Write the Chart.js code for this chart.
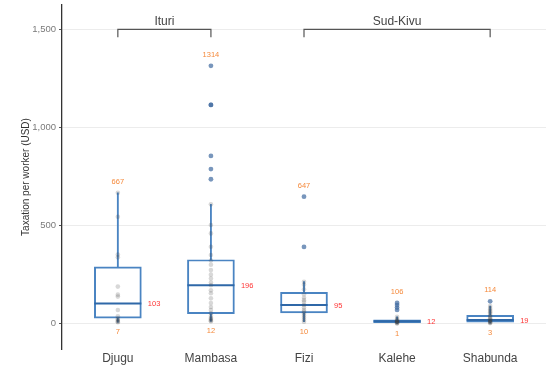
<!DOCTYPE html>
<html>
<head>
<meta charset="utf-8">
<script src="https://cdn.jsdelivr.net/npm/chart.js@4"></script>
<style>
	html, body { margin: 0; padding: 0; background: #fff; }
	#wrap { width: 549px; height: 376px; }
</style>
</head>
<body>
<div id="wrap"><canvas id="chart" width="549" height="376"></canvas></div>
<script>
const CATEGORIES = ['Djugu', 'Mambasa', 'Fizi', 'Kalehe', 'Shabunda'];

// box statistics, one entry per category
const WHISKER_LOW = [7, 12, 10, 1, 3];
const Q1 = [28, 51, 55, 5, 8];
const MEDIAN = [103, 196, 95, 12, 19];
const Q3 = [290, 326, 160, 20, 42];
const WHISKER_HIGH = [667, 608, 214, 35, 90];

// labels printed on the chart
const MIN_LABEL = [7, 12, 10, 1, 3];
const MAX_LABEL = [667, 1314, 647, 106, 114];

// individual observations (grey) and outliers (blue)
const DJUGU_PTS = [667, 545, 352, 338, 189, 148, 138, 70, 38, 25, 20, 15, 10, 7];
const MAMBASA_PTS = [608, 503, 460, 392, 350, 322, 300, 273, 250, 230, 210, 196, 170, 155, 129, 105, 85, 70, 53, 40, 30, 25, 20, 15, 12];
const FIZI_PTS = [214, 198, 175, 150, 132, 120, 110, 95, 82, 70, 60, 50, 40, 30, 20, 10];
const KALEHE_PTS = [35, 25, 20, 15, 12, 10, 8, 5, 3, 1];
const SHABUNDA_PTS = [90, 80, 72, 65, 58, 50, 42, 35, 28, 22, 19, 15, 10, 8, 5, 3];

const DJUGU_OUT = [];
const MAMBASA_OUT = [1314, 1115, 1115, 855, 788, 736];
const FIZI_OUT = [647, 391];
const KALEHE_OUT = [106, 95, 82, 70];
const SHABUNDA_OUT = [114];

// province groups (category positions, 1-based)
const GROUP_NAMES = ['Ituri', 'Sud-Kivu'];
const GROUP_FROM = [1, 3];
const GROUP_TO = [2, 5];

const Y_TICKS = [0, 500, 1000, 1500];

const BLUE = '#4a84c2';
const BLUE_DARK = '#2f68a8';
const ORANGE = '#f58a3c';
const RED = '#ff3535';
const FONT = "'Liberation Sans', Arial, sans-serif";

const pts = [DJUGU_PTS, MAMBASA_PTS, FIZI_PTS, KALEHE_PTS, SHABUNDA_PTS];
const outs = [DJUGU_OUT, MAMBASA_OUT, FIZI_OUT, KALEHE_OUT, SHABUNDA_OUT];

function flatten(groups) {
	const res = [];
	groups.forEach((g, i) => g.forEach(v => res.push({ x: i + 1, y: v })));
	return res;
}

const BRACKET_Y = 1500;
const BRACKET_DROP = 40;

const bracketSets = GROUP_NAMES.map((name, i) => ({
	type: 'scatter',
	label: name,
	data: [
		{ x: GROUP_FROM[i], y: BRACKET_Y - BRACKET_DROP },
		{ x: GROUP_FROM[i], y: BRACKET_Y },
		{ x: GROUP_TO[i], y: BRACKET_Y },
		{ x: GROUP_TO[i], y: BRACKET_Y - BRACKET_DROP },
	],
	showLine: true,
	borderColor: '#555',
	borderWidth: 1.2,
	pointRadius: 0,
	order: 1,
}));

const textPlugin = {
	id: 'boxText',
	afterDatasetsDraw(chart) {
		const { ctx, scales } = chart;
		const xs = scales.x, ys = scales.y;
		ctx.save();
		ctx.font = '7.5px ' + FONT;
		ctx.textBaseline = 'middle';
		CATEGORIES.forEach((c, i) => {
			const px = xs.getPixelForValue(i + 1);
			ctx.fillStyle = ORANGE;
			ctx.textAlign = 'center';
			ctx.fillText(String(MAX_LABEL[i]), px, ys.getPixelForValue(MAX_LABEL[i]) - 11);
			ctx.fillText(String(MIN_LABEL[i]), px, ys.getPixelForValue(MIN_LABEL[i]) + 10);
			ctx.fillStyle = RED;
			ctx.textAlign = 'left';
			ctx.fillText(String(MEDIAN[i]), px + 30, ys.getPixelForValue(MEDIAN[i]) + 0.5);
		});
		ctx.font = '12px ' + FONT;
		ctx.fillStyle = '#444';
		ctx.textAlign = 'center';
		GROUP_NAMES.forEach((name, i) => {
			const px = (xs.getPixelForValue(GROUP_FROM[i]) + xs.getPixelForValue(GROUP_TO[i])) / 2;
			ctx.fillText(name, px, ys.getPixelForValue(BRACKET_Y) - 8);
		});
		ctx.restore();
	},
};

const config = {
	type: 'scatter',
	data: {
		datasets: [
			{
				type: 'scatter',
				label: 'points',
				data: flatten(pts),
				pointRadius: 2.3,
				pointBorderWidth: 0,
				backgroundColor: 'rgba(60,60,60,0.2)',
				order: 2,
			},
			{
				type: 'scatter',
				label: 'outliers',
				data: flatten(outs),
				pointRadius: 2.4,
				pointBorderWidth: 0,
				backgroundColor: 'rgba(62,105,160,0.7)',
				order: 2,
			},
			{
				type: 'scatter',
				label: 'median',
				data: MEDIAN.map((v, i) => ({ x: i + 1, y: v })),
				pointStyle: 'line',
				pointRadius: 23.5,
				pointBorderWidth: 2,
				borderColor: BLUE_DARK,
				order: 3,
			},
			{
				type: 'bar',
				label: 'box',
				data: Q1.map((v, i) => ({ x: i + 1, y: [v, Q3[i]] })),
				barThickness: 47,
				borderWidth: 1.3,
				borderSkipped: false,
				borderColor: BLUE,
				backgroundColor: 'rgba(255,255,255,0)',
				order: 4,
			},
			{
				type: 'bar',
				label: 'lower whisker',
				data: WHISKER_LOW.map((v, i) => ({ x: i + 1, y: [v, Q1[i]] })),
				barThickness: 1.2,
				borderWidth: 0,
				backgroundColor: BLUE,
				order: 5,
			},
			{
				type: 'bar',
				label: 'upper whisker',
				data: Q3.map((v, i) => ({ x: i + 1, y: [v, WHISKER_HIGH[i]] })),
				barThickness: 1.2,
				borderWidth: 0,
				backgroundColor: BLUE,
				order: 5,
			},
			...bracketSets,
		],
	},
	options: {
		responsive: false,
		animation: false,
		layout: { autoPadding: false, padding: { top: 5, right: 3, left: 0, bottom: 0 } },
		datasets: { bar: { grouped: false } },
		plugins: {
			legend: { display: false },
			tooltip: { enabled: false },
		},
		scales: {
			x: {
				type: 'linear',
				min: 0.4,
				max: 5.6,
				offset: false,
				afterBuildTicks: (scale) => {
					scale.ticks = CATEGORIES.map((c, i) => ({ value: i + 1 }));
				},
				afterFit: (scale) => {
					scale.height = 27;
					scale.paddingLeft = 0;
					scale.paddingRight = 0;
				},
				grid: { display: false, drawTicks: false, tickLength: 0, offset: false },
				border: { display: false },
				ticks: {
					padding: 2,
					color: '#444',
					font: { family: FONT, size: 12 },
					callback: (v) => CATEGORIES[v - 1] || '',
				},
			},
			y: {
				min: -129,
				max: 1624,
				afterBuildTicks: (scale) => {
					scale.ticks = Y_TICKS.map(v => ({ value: v }));
				},
				afterFit: (scale) => {
					scale.width = 62;
					scale.paddingTop = 0;
					scale.paddingBottom = 0;
				},
				grid: {
					color: '#ececec',
					lineWidth: 1,
					tickLength: 3,
					tickColor: '#555',
				},
				border: { display: true, color: '#333', width: 1.3 },
				ticks: {
					padding: 3,
					color: '#7a7a7a',
					font: { family: FONT, size: 9.5 },
					callback: (v) => v.toLocaleString('en-US'),
				},
				title: {
					display: true,
					text: 'Taxation per worker (USD)',
					color: '#333',
					font: { family: FONT, size: 10 },
					padding: { top: 20, bottom: 0 },
				},
			},
		},
	},
	plugins: [textPlugin],
};

new Chart(document.getElementById('chart'), config);
</script>
</body>
</html>
